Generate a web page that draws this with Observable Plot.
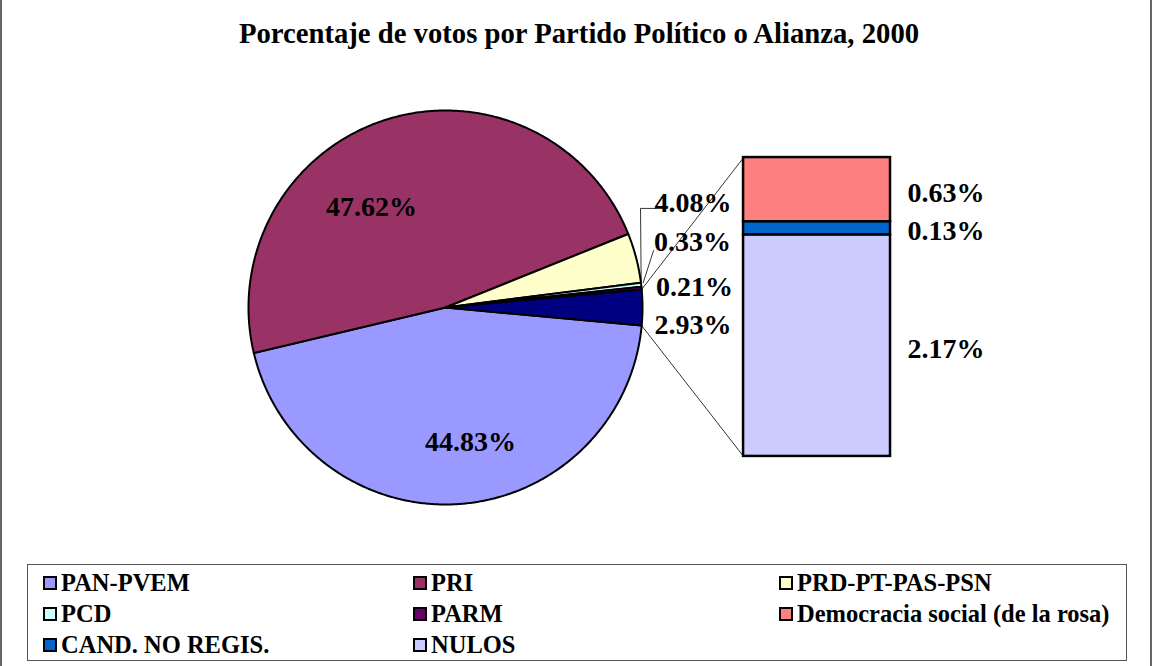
<!DOCTYPE html>
<html>
<head>
<meta charset="utf-8">
<script src="https://cdn.jsdelivr.net/npm/d3@7"></script>
<script src="https://cdn.jsdelivr.net/npm/@observablehq/plot@0.6"></script>
<style>
  html, body { margin: 0; padding: 0; background: #fff; }
  #chart { position: relative; width: 1153px; height: 666px; overflow: hidden; font-family: "Liberation Serif", "Times New Roman", serif; }
  #frameL { position: absolute; left: 0; top: 0; width: 2px; height: 666px; background: #666; }
  #frameR { position: absolute; left: 1150px; top: 0; width: 2px; height: 666px; background: #666; }
  #title { position: absolute; left: 0; top: 19px; width: 1158px; text-align: center; font-size: 28.7px; line-height: 28px; font-weight: bold; color: #000; }
  #plot { position: absolute; left: 0; top: 60px; }
  #legend { position: absolute; left: 27px; top: 564px; width: 1100px; height: 97px; border: 1.5px solid #555; box-sizing: border-box; }
  .item { position: absolute; display: flex; align-items: center; font-size: 24.5px; font-weight: bold; line-height: 24px; color: #000; white-space: nowrap; }
  .sw { width: 10px; height: 10px; border: 2px solid #000; margin-right: 4px; }
</style>
</head>
<body>
<div id="chart">
  <div id="frameL"></div>
  <div id="frameR"></div>
  <div id="title">Porcentaje de votos por Partido Político o Alianza, 2000</div>
  <div id="plot"></div>
  <div id="legend"></div>
</div>
<script>
// ---- data ----
const pieNames  = ["PAN-PVEM", "PRI", "PRD-PT-PAS-PSN", "PCD", "PARM", "Otros"];
const pieValues = [44.83, 47.62, 4.08, 0.33, 0.21, 2.93];
const pieColors = ["#9999FF", "#993366", "#FFFFCC", "#CCFFFF", "#660066", "#000080"];
const barNames  = ["Democracia social (de la rosa)", "CAND. NO REGIS.", "NULOS"];
const barValues = [0.63, 0.13, 2.17];
const barColors = ["#FF8080", "#0066CC", "#CCCCFF"];
const legendNames  = ["PAN-PVEM", "PRI", "PRD-PT-PAS-PSN", "PCD", "PARM", "Democracia social (de la rosa)", "CAND. NO REGIS.", "NULOS"];
const legendColors = ["#9999FF", "#993366", "#FFFFCC", "#CCFFFF", "#660066", "#FF8080", "#0066CC", "#CCCCFF"];

// ---- layout (pie units: radius = 1) ----
const pieLabelPos = [[0.127, -0.685], [-0.376, 0.508], [1.061, 0.528], [1.058, 0.330], [1.068, 0.102], [1.061, -0.091]];
const pieLabelAnchor = ["middle", "middle", "start", "start", "start", "start"];
const bar = {x1: 1.513, x2: 2.259, top: 0.761, bottom: -0.756, labelX: 2.345, labelDy: -0.015};
const leader408 = [[1.066, 0.503], [0.990, 0.503]];
const leader033 = [1.056, 0.289];

// ---- pie geometry ----
const total = d3.sum(pieValues);
const toDeg = v => v / total * 360;
const otherIdx = pieValues.length - 1;
let a = toDeg(pieValues[otherIdx]) / 2; // start at bottom edge of "Otros" slice (clockwise)
const slices = pieValues.map((v, i) => {
  const a0 = a, a1 = a + toDeg(v);
  a = a1;
  return {name: pieNames[i], value: v, color: pieColors[i], a0, a1};
});
const pt = deg => { const r = deg * Math.PI / 180; return [Math.cos(r), -Math.sin(r)]; };
const polyPoints = [];
for (const s of slices) {
  polyPoints.push({name: s.name, color: s.color, x: 0, y: 0});
  const n = Math.max(2, Math.ceil((s.a1 - s.a0) / 0.5));
  for (let k = 0; k <= n; k++) {
    const [x, y] = pt(s.a0 + (s.a1 - s.a0) * k / n);
    polyPoints.push({name: s.name, color: s.color, x, y});
  }
}

// ---- bar geometry ----
const barTotal = d3.sum(barValues);
const perUnit = (bar.top - bar.bottom) / barTotal;
let cum = 0;
const barRects = barValues.map((v, i) => {
  const y1 = bar.top - cum * perUnit;
  cum += v;
  const y2 = bar.top - cum * perUnit;
  return {name: barNames[i], value: v, color: barColors[i], y1, y2};
});

// ---- labels ----
const fmt = v => v.toFixed(2) + "%";
const pieLabels = slices.map((s, i) => ({text: fmt(s.value), x: pieLabelPos[i][0], y: pieLabelPos[i][1], anchor: pieLabelAnchor[i]}));
const barLabels = barRects.map(r => ({text: fmt(r.value), x: bar.labelX, y: (r.y1 + r.y2) / 2 + bar.labelDy}));

// ---- connectors ----
const other = slices[otherIdx];
const [tx, ty] = pt(other.a0);
const [bx, by] = pt(other.a1);
const connectors = [
  {x1: tx, y1: ty, x2: bar.x1, y2: bar.top},
  {x1: bx, y1: by, x2: bar.x1, y2: bar.bottom}
];
const pcd = slices[3];
const [px, py] = pt((pcd.a0 + pcd.a1) / 2);
const leaderLines = [
  {id: "a", x: leader408[0][0], y: leader408[0][1]},
  {id: "a", x: leader408[1][0], y: leader408[1][1]},
  {id: "a", x: px, y: py + 0.005},
  {id: "b", x: leader033[0], y: leader033[1]},
  {id: "b", x: px + 0.01, y: py + 0.01}
];

const textOpts = {fontSize: 28, fontWeight: "bold", fontFamily: "Liberation Serif", fill: "black"};

const chart = Plot.plot({
  width: 1153,
  height: 495,
  margin: 0,
  x: {domain: [-1, 1], range: [248, 642], axis: null},
  y: {domain: [-1, 1], range: [444, 50], axis: null},
  color: {type: "identity"},
  style: {background: "transparent", overflow: "visible"},
  marks: [
    Plot.line(polyPoints, {x: "x", y: "y", z: "name", fill: "color", stroke: "black", strokeWidth: 2, curve: "linear-closed", strokeLinejoin: "round"}),
    Plot.link(connectors, {x1: "x1", y1: "y1", x2: "x2", y2: "y2", stroke: "black", strokeWidth: 0.8}),
    Plot.line(leaderLines, {x: "x", y: "y", z: "id", stroke: "black", strokeWidth: 0.8}),
    Plot.rect(barRects, {x1: () => bar.x1, x2: () => bar.x2, y1: "y1", y2: "y2", fill: "color", stroke: "black", strokeWidth: 2.5}),
    Plot.text(pieLabels.filter(d => d.anchor === "middle"), {x: "x", y: "y", text: "text", textAnchor: "middle", ...textOpts}),
    Plot.text(pieLabels.filter(d => d.anchor === "start"), {x: "x", y: "y", text: "text", textAnchor: "start", ...textOpts}),
    Plot.text(barLabels, {x: "x", y: "y", text: "text", textAnchor: "start", ...textOpts})
  ]
});
document.getElementById("plot").appendChild(chart);

// ---- legend ----
const legend = document.getElementById("legend");
const colX = [15, 385, 751];
const rowY = [6, 37, 68];
legendNames.forEach((name, i) => {
  const el = document.createElement("div");
  el.className = "item";
  el.style.left = colX[i % 3] + "px";
  el.style.top = rowY[Math.floor(i / 3)] + "px";
  const sw = document.createElement("div");
  sw.className = "sw";
  sw.style.background = legendColors[i];
  el.appendChild(sw);
  el.appendChild(document.createTextNode(name));
  legend.appendChild(el);
});
</script>
</body>
</html>
